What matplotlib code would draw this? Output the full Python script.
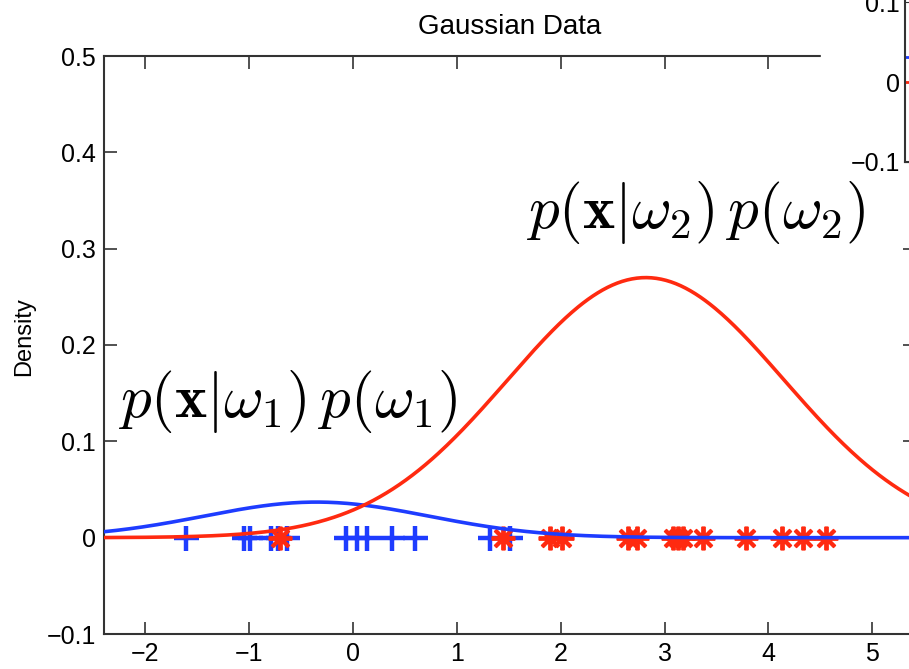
import numpy as np
import matplotlib.pyplot as plt
from matplotlib.patches import Rectangle

plt.rcParams["mathtext.fontset"] = "cm"

# class parameters (mean, std, prior)
class_means = [-0.35, 2.82]
class_stds = [1.08, 1.33]
class_priors = [0.1, 0.9]

# samples drawn at density 0
blue_x = [-1.60, -1.05, -0.99, -0.79, -0.72, -0.63, -0.06, 0.04, 0.14, 0.38, 0.60, 1.32, 1.51]
red_x = [-0.70, 1.45, 1.90, 2.01, 2.65, 2.74, 3.08, 3.13, 3.18, 3.37, 3.78, 4.13, 4.33, 4.55]

# values of the small inset at the top right
inset_blue = 0.031
inset_red = 0.0

x_ticks = [-2, -1, 0, 1, 2, 3, 4, 5]
y_ticks = [-0.1, 0, 0.1, 0.2, 0.3, 0.4, 0.5]

BLUE = "#1e3cff"
RED = "#ff2a10"
SPINE = "#333333"

W, H = 909, 669
fig = plt.figure(figsize=(W / 100, H / 100), dpi=100)
ax = fig.add_axes([104 / W, (H - 634) / H, (915 - 104) / W, (634 - 56) / H])

xs = np.linspace(-2.4, 5.41, 500)


def weighted_pdf(x, mu, sd, prior):
    return prior * np.exp(-(x - mu) ** 2 / (2 * sd ** 2)) / (sd * np.sqrt(2 * np.pi))


# samples
ax.plot(blue_x, np.zeros(len(blue_x)), "+", color=BLUE, markersize=18, markeredgewidth=3.2, zorder=2)
ax.plot(red_x, np.zeros(len(red_x)), marker=(8, 2, 0), linestyle="none", color=RED,
        markersize=17, markeredgewidth=2.8, zorder=3)

# densities
ax.plot(xs, weighted_pdf(xs, class_means[0], class_stds[0], class_priors[0]), color=BLUE, lw=2.6, zorder=4)
ax.plot(xs, weighted_pdf(xs, class_means[1], class_stds[1], class_priors[1]), color=RED, lw=2.6, zorder=5)

ax.text(-2.26, 0.141, r"$p(\mathbf{x}|\omega_1)\,p(\omega_1)$", fontsize=44, va="center", ha="left", zorder=6)
ax.text(1.67, 0.338, r"$p(\mathbf{x}|\omega_2)\,p(\omega_2)$", fontsize=44, va="center", ha="left", zorder=6)

ax.set_xlim(-2.393, 5.41)
ax.set_ylim(-0.1, 0.5)
ax.set_xticks(x_ticks)
ax.set_yticks(y_ticks)
ax.set_xticklabels([str(t).replace("-", "\u2212") for t in x_ticks], fontsize=18, family="Liberation Sans")
ax.set_yticklabels(["\u22120.1", "0", "0.1", "0.2", "0.3", "0.4", "0.5"], fontsize=18, family="Liberation Sans")
ax.tick_params(direction="in", top=True, right=True, length=9, width=1.2, color=SPINE, pad=6)
for s in ax.spines.values():
    s.set_color(SPINE)
    s.set_linewidth(1.5)

ax.set_ylabel("Density", fontsize=17, family="Liberation Sans")
ax.yaxis.set_label_coords(-0.085, 0.515)
ax.set_title("Gaussian Data", fontsize=20, family="Liberation Sans", pad=16)

# white strip hiding the main top border under the inset labels
fig.patches.append(Rectangle((821 / W, (H - 168) / H), (909 - 821) / W, 168 / H,
                             transform=fig.transFigure, color="white", zorder=5))

# inset axes, mostly outside the picture
inset = fig.add_axes([905 / W, (H - 162) / H, 100 / W, 200 / H], zorder=6)
inset.set_ylim(-0.1, 0.15)
inset.set_xlim(0, 1)
inset.plot([0, 1], [inset_blue, inset_blue], color=BLUE, lw=2)
inset.plot([0, 1], [inset_red, inset_red], color=RED, lw=2)
inset.set_yticks([-0.1, 0, 0.1])
inset.set_yticklabels(["\u22120.1", "0", "0.1"], fontsize=18, family="Liberation Sans")
inset.set_xticks([])
inset.tick_params(direction="in", length=9, color=SPINE)
for s in inset.spines.values():
    s.set_color(SPINE)
    s.set_linewidth(1.5)

fig.savefig("out.png", dpi=100)
